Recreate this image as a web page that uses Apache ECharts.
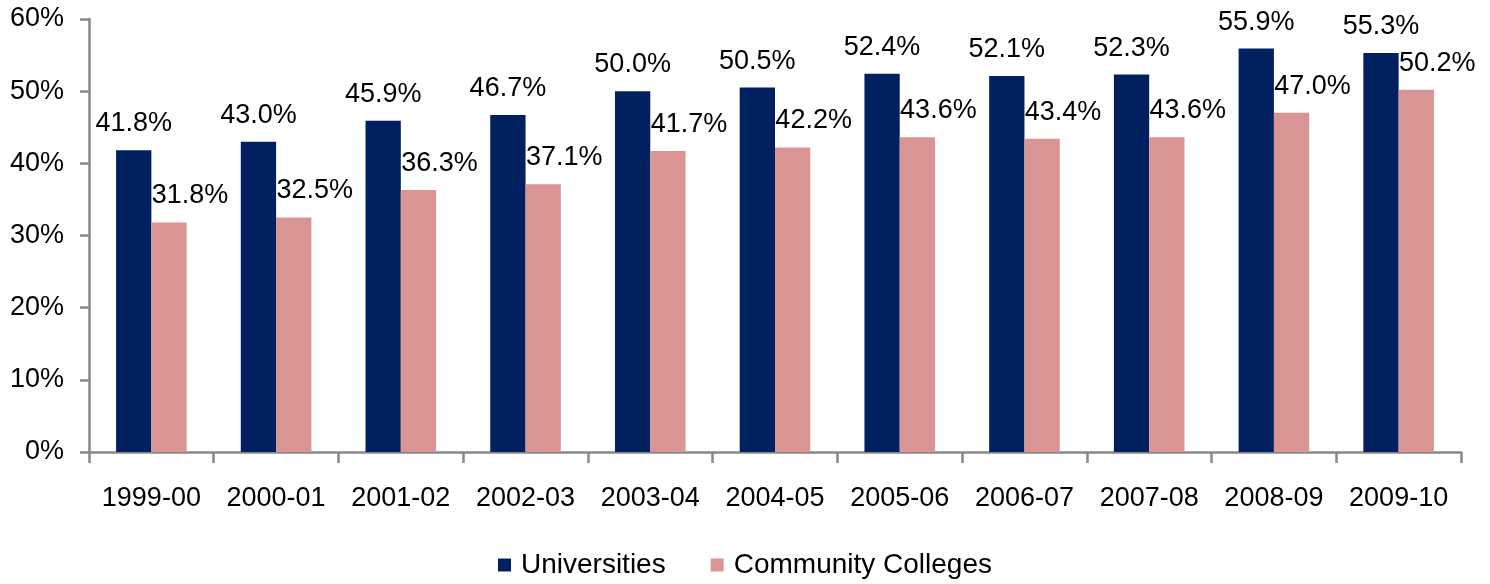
<!DOCTYPE html>
<html>
<head>
<meta charset="utf-8">
<script src="https://cdn.jsdelivr.net/npm/echarts@6/dist/echarts.min.js"></script>
<style>
html,body{margin:0;padding:0;background:#fff;}
#chart{width:1490px;height:584px;}
</style>
</head>
<body>
<div id="chart"></div>
<script>
const categories = ['1999-00','2000-01','2001-02','2002-03','2003-04','2004-05','2005-06','2006-07','2007-08','2008-09','2009-10'];
const universities = [41.8, 43.0, 45.9, 46.7, 50.0, 50.5, 52.4, 52.1, 52.3, 55.9, 55.3];
const communityColleges = [31.8, 32.5, 36.3, 37.1, 41.7, 42.2, 43.6, 43.4, 43.6, 47.0, 50.2];
const seriesNames = ['Universities', 'Community Colleges'];

const FONT = '"Liberation Sans", Arial, sans-serif';
const chart = echarts.init(document.getElementById('chart'), null, {renderer: 'canvas'});
const labelFmt = p => p.value.toFixed(1) + '%';
chart.setOption({
  animation: false,
  backgroundColor: '#ffffff',
  textStyle: {fontFamily: FONT},
  grid: {left: 89, right: 29, top: 19, bottom: 132, containLabel: false},
  legend: {
    data: seriesNames,
    bottom: 0,
    left: 'center',
    itemWidth: 13,
    itemHeight: 13,
    itemGap: 45,
    icon: 'rect',
    textStyle: {fontSize: 28, color: '#000', fontFamily: FONT, padding: [0, 0, 0, 5]}
  },
  xAxis: {
    type: 'category',
    data: categories,
    axisLine: {lineStyle: {color: '#898989', width: 2.5}},
    axisTick: {show: true, interval: 0, length: 11, lineStyle: {color: '#898989', width: 2.5}},
    axisLabel: {interval: 0, hideOverlap: false, fontSize: 27, color: '#000', margin: 33, fontFamily: FONT}
  },
  yAxis: {
    type: 'value',
    min: 0, max: 60, interval: 10,
    splitLine: {show: false},
    axisLine: {show: true, lineStyle: {color: '#898989', width: 2.5}},
    axisTick: {show: true, inside: false, length: 9, lineStyle: {color: '#898989', width: 2.5}},
    axisLabel: {fontSize: 27, color: '#000', margin: 25, formatter: '{value}%', fontFamily: FONT}
  },
  series: [
    {
      name: seriesNames[0],
      type: 'bar',
      data: universities,
      barGap: '0%',
      barCategoryGap: '43.4%',
      itemStyle: {color: '#002060'},
      label: {show: true, position: 'top', distance: 13, fontSize: 27, color: '#000', fontFamily: FONT, formatter: labelFmt}
    },
    {
      name: seriesNames[1],
      type: 'bar',
      data: communityColleges,
      barGap: '0%',
      barCategoryGap: '43.4%',
      itemStyle: {color: '#d99594'},
      label: {show: true, position: 'top', distance: 13, offset: [21, 0], fontSize: 27, color: '#000', fontFamily: FONT, formatter: labelFmt}
    }
  ]
});
</script>
</body>
</html>
